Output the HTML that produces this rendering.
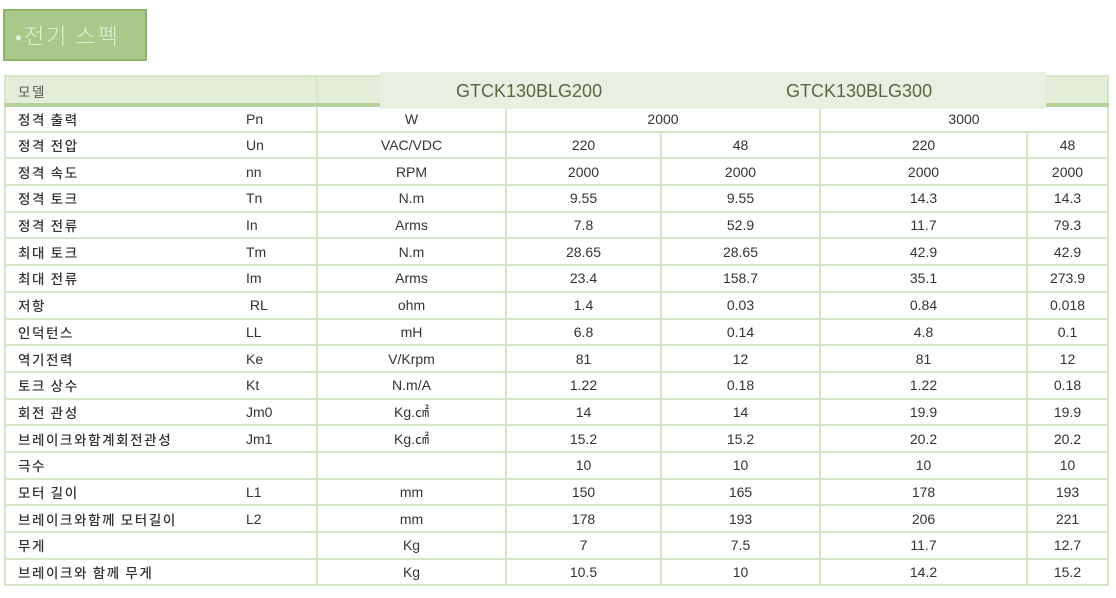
<!DOCTYPE html>
<html><head><meta charset="utf-8"><style>
body{margin:0;width:1116px;height:598px;background:#fff;position:relative;overflow:hidden;font-family:"Liberation Sans","Noto Sans CJK KR",sans-serif;color:#333;}
.title{position:absolute;left:3px;top:9px;width:130px;height:48px;background:#a8c98a;border:2px solid #8fb56d;color:#e4efd8;font-size:22px;line-height:48px;padding-left:10px;box-sizing:content-box;font-family:"Noto Sans CJK KR",sans-serif;font-weight:300;letter-spacing:2px;}
table{position:absolute;left:4px;top:75px;border-collapse:collapse;table-layout:fixed;width:1103px;font-size:14px;}
td{border:2px solid #d6e5c6;height:26.7px;padding:0;text-align:center;box-sizing:border-box;white-space:nowrap;}
td.n{text-align:left;padding-left:12px;border-right:none;font-weight:500;color:#333;font-family:"Noto Sans CJK KR",sans-serif;font-size:13.5px;letter-spacing:1.6px;}
td.s{text-align:left;padding-left:41px;border-left:none;}
tr.h td{height:29px;background:#e3edd7;border-bottom:4px solid #b6d29b;vertical-align:top;padding-top:4px;}
tr.h td.n{font-weight:normal;color:#555;}
.ov{position:absolute;left:380px;top:72px;width:666px;height:37px;background:#e9f0e1;font-size:18px;color:#55683f;}
.ov span{position:absolute;top:9px;}
</style></head><body>
<div class="title">•전기 스펙</div>
<table>
<colgroup><col style="width:200px"><col style="width:112px"><col style="width:189px"><col style="width:155px"><col style="width:159px"><col style="width:207px"><col style="width:81px"></colgroup>
<tr class="h"><td class="n">모델</td><td class="s"></td><td></td><td></td><td></td><td></td><td></td></tr>
<tr><td class="n">정격 출력</td><td class="s">Pn</td><td>W</td><td colspan="2">2000</td><td colspan="2">3000</td></tr>
<tr><td class="n">정격 전압</td><td class="s">Un</td><td>VAC/VDC</td><td>220</td><td>48</td><td>220</td><td>48</td></tr>
<tr><td class="n">정격 속도</td><td class="s">nn</td><td>RPM</td><td>2000</td><td>2000</td><td>2000</td><td>2000</td></tr>
<tr><td class="n">정격 토크</td><td class="s">Tn</td><td>N.m</td><td>9.55</td><td>9.55</td><td>14.3</td><td>14.3</td></tr>
<tr><td class="n">정격 전류</td><td class="s">In</td><td>Arms</td><td>7.8</td><td>52.9</td><td>11.7</td><td>79.3</td></tr>
<tr><td class="n">최대 토크</td><td class="s">Tm</td><td>N.m</td><td>28.65</td><td>28.65</td><td>42.9</td><td>42.9</td></tr>
<tr><td class="n">최대 전류</td><td class="s">Im</td><td>Arms</td><td>23.4</td><td>158.7</td><td>35.1</td><td>273.9</td></tr>
<tr><td class="n">저항</td><td class="s">&nbsp;RL</td><td>ohm</td><td>1.4</td><td>0.03</td><td>0.84</td><td>0.018</td></tr>
<tr><td class="n">인덕턴스</td><td class="s">LL</td><td>mH</td><td>6.8</td><td>0.14</td><td>4.8</td><td>0.1</td></tr>
<tr><td class="n">역기전력</td><td class="s">Ke</td><td>V/Krpm</td><td>81</td><td>12</td><td>81</td><td>12</td></tr>
<tr><td class="n">토크 상수</td><td class="s">Kt</td><td>N.m/A</td><td>1.22</td><td>0.18</td><td>1.22</td><td>0.18</td></tr>
<tr><td class="n">회전 관성</td><td class="s">Jm0</td><td>Kg.㎠</td><td>14</td><td>14</td><td>19.9</td><td>19.9</td></tr>
<tr><td class="n">브레이크와함계회전관성</td><td class="s">Jm1</td><td>Kg.㎠</td><td>15.2</td><td>15.2</td><td>20.2</td><td>20.2</td></tr>
<tr><td class="n">극수</td><td class="s"></td><td></td><td>10</td><td>10</td><td>10</td><td>10</td></tr>
<tr><td class="n">모터 길이</td><td class="s">L1</td><td>mm</td><td>150</td><td>165</td><td>178</td><td>193</td></tr>
<tr><td class="n">브레이크와함께 모터길이</td><td class="s">L2</td><td>mm</td><td>178</td><td>193</td><td>206</td><td>221</td></tr>
<tr><td class="n">무게</td><td class="s"></td><td>Kg</td><td>7</td><td>7.5</td><td>11.7</td><td>12.7</td></tr>
<tr><td class="n">브레이크와 함께 무게</td><td class="s"></td><td>Kg</td><td>10.5</td><td>10</td><td>14.2</td><td>15.2</td></tr>
</table>
<div class="ov"><span style="left:76px">GTCK130BLG200</span><span style="left:406px">GTCK130BLG300</span></div>
</body></html>
